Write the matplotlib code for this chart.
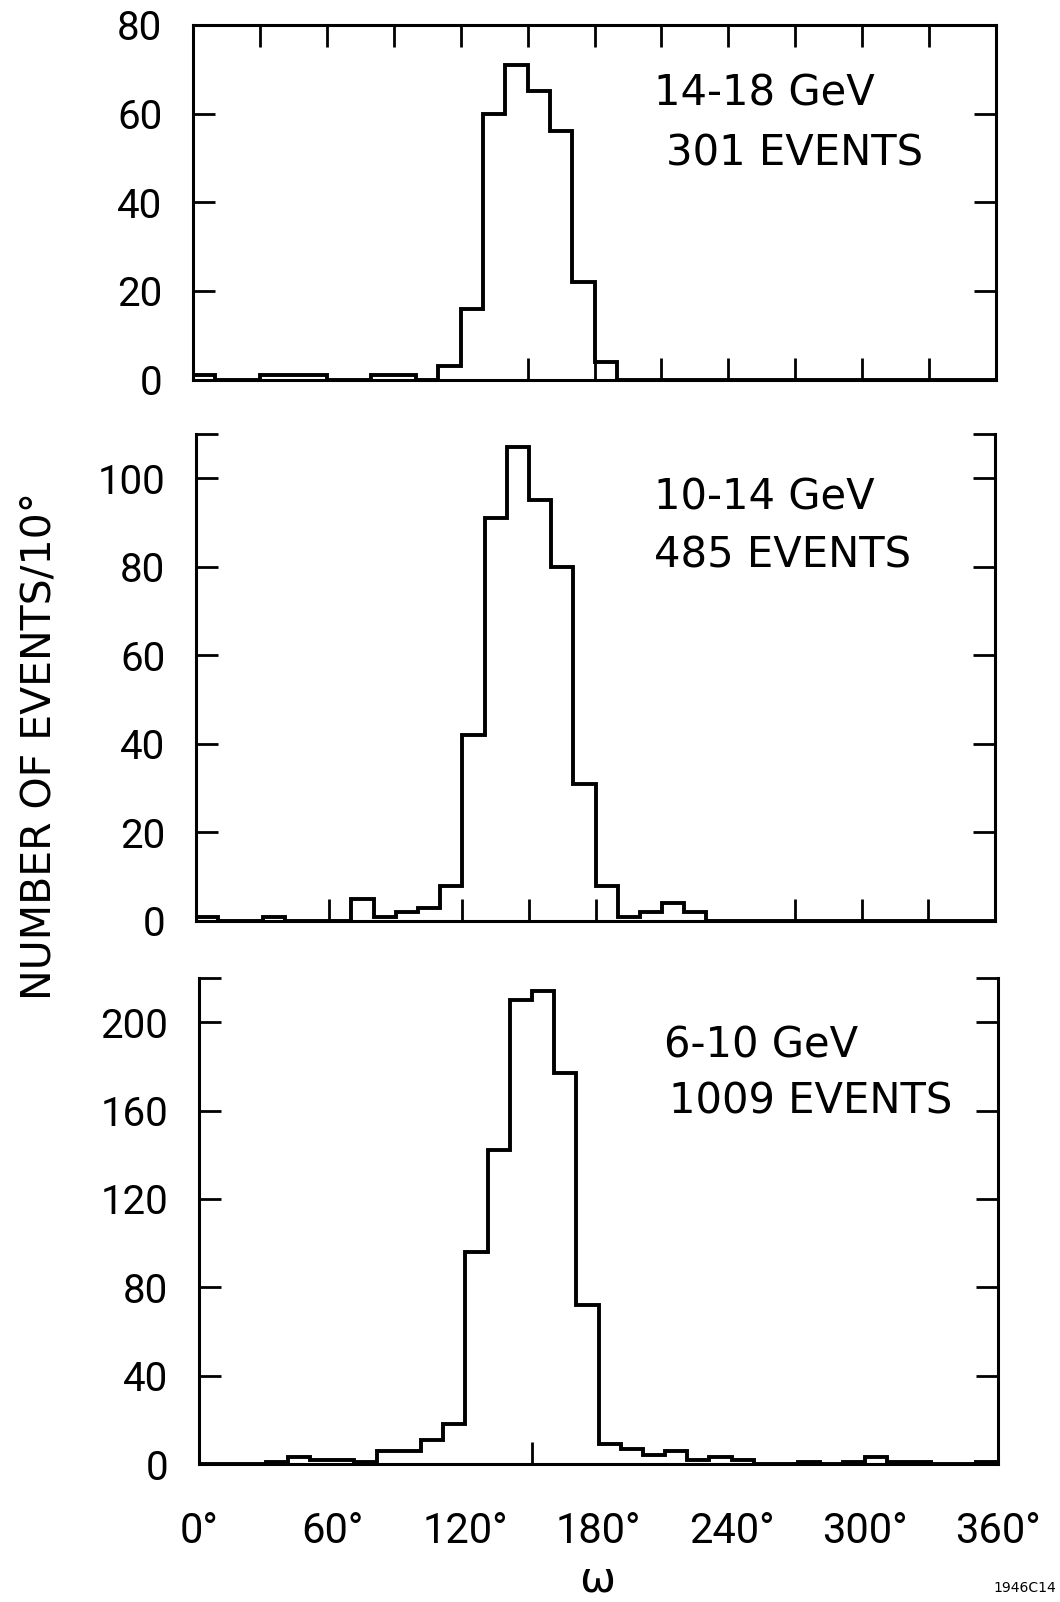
import numpy as np
import matplotlib
matplotlib.use("Agg")
import matplotlib.pyplot as plt

# ---------------- data ----------------
bin_edges = np.arange(0, 370, 10)          # omega bins, 10 degrees wide

counts_14_18 = [1, 0, 0, 1, 1, 1, 0, 0, 1, 1,
                0, 3, 16, 60, 71, 65, 56, 22, 4, 0,
                0, 0, 0, 0, 0, 0, 0, 0, 0, 0,
                0, 0, 0, 0, 0, 0]
counts_10_14 = [1, 0, 0, 1, 0, 0, 0, 5, 1, 2,
                3, 8, 42, 91, 107, 95, 80, 31, 8, 1,
                2, 4, 2, 0, 0, 0, 0, 0, 0, 0,
                0, 0, 0, 0, 0, 0]
counts_6_10 = [0, 0, 0, 1, 3, 2, 2, 1, 6, 6,
               11, 18, 96, 142, 210, 214, 177, 72, 9, 7,
               4, 6, 2, 3, 2, 0, 0, 1, 0, 1,
               3, 1, 1, 0, 0, 1]

energy_labels = ["14-18 GeV", "10-14 GeV", "6-10 GeV"]
event_labels = ["301 EVENTS", "485 EVENTS", "1009 EVENTS"]

yticks_top = [0, 20, 40, 60, 80]
yticks_mid = [0, 20, 40, 60, 80, 100, 110]
yticks_bot = [0, 40, 80, 120, 160, 200, 220]
ylabels_top = ["0", "20", "40", "60", "80"]
ylabels_mid = ["0", "20", "40", "60", "80", "100", ""]
ylabels_bot = ["0", "40", "80", "120", "160", "200", ""]

xticks_lab = [0, 60, 120, 180, 240, 300, 360]
xlabels = ["0°", "60°", "120°", "180°", "240°", "300°", "360°"]

y_axis_title = "NUMBER OF EVENTS/10°"
x_axis_title = "ω"
figure_code = "1946C14"

# ---------------- style ----------------
W, H = 1060, 1602
fig = plt.figure(figsize=(W / 100, H / 100), dpi=100)
fig.patch.set_facecolor("white")

TICK_FONT = ["Roboto", "DejaVu Sans"]
TEXT_FONT = ["DejaVu Sans"]
LW_HIST = 2.8
LW_SPINE = 2.2
TLEN = 16
TW = 2.0


def box(l, t, r, b):
    return [l / W, 1 - b / H, (r - l) / W, (b - t) / H]


ax1 = fig.add_axes(box(193, 25, 996, 379.5))
ax2 = fig.add_axes(box(196, 434, 995, 921))
ax3 = fig.add_axes(box(199, 978, 998, 1464))

panels = [
    (ax1, counts_14_18, 80, yticks_top, ylabels_top, True),
    (ax2, counts_10_14, 110, yticks_mid, ylabels_mid, False),
    (ax3, counts_6_10, 220, yticks_bot, ylabels_bot, False),
]

for ax, counts, ymax, yt, yl, topspine in panels:
    ax.stairs(counts, bin_edges, baseline=0, color="black", lw=LW_HIST)
    ax.set_xlim(0, 360)
    ax.set_ylim(0, ymax)
    for s in ax.spines.values():
        s.set_linewidth(LW_SPINE)
    ax.spines["top"].set_visible(topspine)
    ax.set_yticks(yt)
    ax.set_yticklabels(yl, family=TICK_FONT, fontsize=29)
    ax.tick_params(axis="y", direction="in", length=TLEN, width=TW,
                   left=True, right=True, pad=22)

# top panel: ticks every 30 deg on top, bottom ticks only 150..330
ax1.set_xticks([150, 180, 210, 240, 270, 300, 330])
ax1.set_xticks([30, 60, 90, 120], minor=True)
ax1.tick_params(axis="x", which="major", direction="in", length=TLEN, width=TW,
                top=True, bottom=True, labelbottom=False)
ax1.tick_params(axis="x", which="minor", direction="in", length=TLEN, width=TW,
                top=True, bottom=False, labelbottom=False)

# middle panel
ax2.set_xticks([60, 120, 150, 180, 270, 300, 330])
ax2.tick_params(axis="x", which="major", direction="in", length=TLEN, width=TW,
                top=False, bottom=True, labelbottom=False)

# bottom panel
ax3.set_xticks(xticks_lab)
ax3.set_xticklabels(xlabels, family=TICK_FONT, fontsize=30)
ax3.set_xticks([120, 150, 180], minor=True)
ax3.tick_params(axis="x", which="major", length=0, pad=34, top=False)
ax3.tick_params(axis="x", which="minor", direction="in", length=TLEN, width=TW,
                top=False, bottom=True)

# panel annotations: (axes, x line1, x line2, baseline1, baseline2, box)
ann = [(ax1, 654, 666, 106, 165, 193, 996, 25, 379.5),
       (ax2, 654, 654, 510, 567, 196, 995, 434, 921),
       (ax3, 664, 669, 1057, 1114, 199, 998, 978, 1464)]
for (ax, x1, x2, yb1, yb2, l, r, t, b), e, n in zip(ann, energy_labels, event_labels):
    ax.text((x1 - l) / (r - l), (b - yb1) / (b - t), e, transform=ax.transAxes,
            family=TEXT_FONT, fontsize=30, ha="left", va="baseline")
    ax.text((x2 - l) / (r - l), (b - yb2) / (b - t), n, transform=ax.transAxes,
            family=TEXT_FONT, fontsize=30, ha="left", va="baseline")

fig.text(40 / W, 1 - 746 / H, y_axis_title, rotation=90, ha="center", va="center",
         family=TEXT_FONT, fontsize=29.5)
fig.text(597 / W, 1 - 1580 / H, x_axis_title, ha="center", va="center",
         family=TEXT_FONT, fontsize=31)
fig.text(1025 / W, 1 - 1588 / H, figure_code, ha="center", va="center",
         family=TEXT_FONT, fontsize=10)

fig.savefig("out.png", dpi=100, facecolor="white")
